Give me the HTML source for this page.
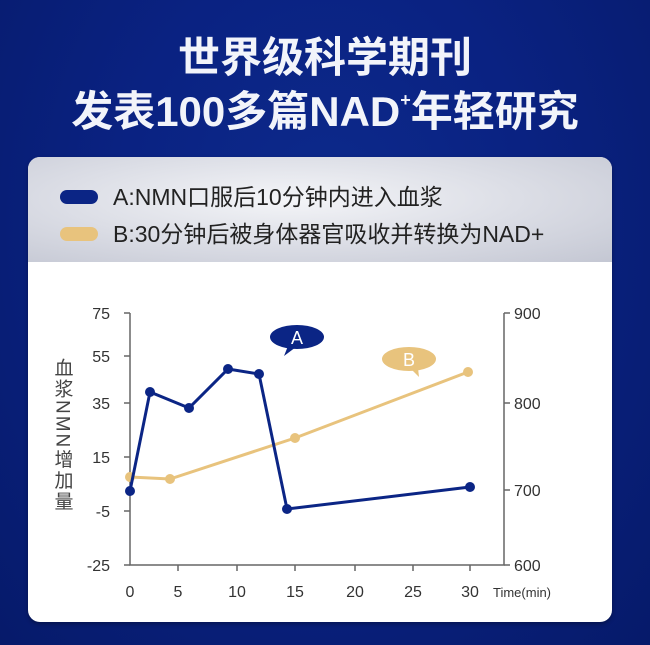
<!DOCTYPE html>
<html><head><meta charset="utf-8"><style>
body{margin:0;width:650px;height:645px;overflow:hidden;background:radial-gradient(ellipse at 50% 35%,#0d2a8c 0%,#0a2282 45%,#061a6a 100%);font-family:"Liberation Sans","Noto Sans CJK SC",sans-serif;position:relative}
.t{position:absolute;left:0;width:650px;text-align:center;color:#f2f4fa;font-weight:bold;font-size:42px;line-height:48px}
.card{position:absolute;left:28px;top:157px;width:584px;height:465px;border-radius:12px;background:#fff;overflow:hidden;box-shadow:0 2px 4px rgba(0,0,0,.3)}
.hd{position:absolute;left:0;top:0;width:584px;height:105px;background:radial-gradient(ellipse at 45% 40%,#f4f5f8 0%,#dcdee6 50%,#c4c7d3 100%)}
.sw{position:absolute;left:32px;width:38px;height:14px;border-radius:7px}
.lg{position:absolute;left:85px;font-size:23px;color:#222;line-height:28px}
</style></head><body>
<div class="t" style="top:34px">世界级科学期刊</div>
<div class="t" style="top:88px">发表100多篇NAD<sup style="font-size:18px;vertical-align:20px;line-height:0">+</sup>年轻研究</div>
<div class="card"><div class="hd">
<div class="sw" style="top:33px;background:#0b2585"></div>
<div class="lg" style="top:26px">A:NMN口服后10分钟内进入血浆</div>
<div class="sw" style="top:70px;background:#e8c37d"></div>
<div class="lg" style="top:63px">B:30分钟后被身体器官吸收并转换为NAD+</div>
</div></div>
<svg width="650" height="645" style="position:absolute;left:0;top:0" font-family="Liberation Sans, Noto Sans CJK SC, sans-serif">
<g stroke="#666" stroke-width="1.5" fill="none">
<path d="M130 313V565H504V313"/>
<path d="M124 313H130M124 356H130M124 403H130M124 457H130M124 511H130M124 565H130"/>
<path d="M504 313H510M504 403H510M504 490H510M504 565H510"/>
<path d="M178 565V571M237 565V571M295 565V571M355 565V571M413 565V571M470 565V571"/>
</g>
<g font-size="16" fill="#333" text-anchor="end">
<text x="110" y="319">75</text><text x="110" y="362">55</text><text x="110" y="409">35</text><text x="110" y="463">15</text><text x="110" y="517">-5</text><text x="110" y="571">-25</text>
</g>
<g font-size="16" fill="#333">
<text x="514" y="319">900</text><text x="514" y="409">800</text><text x="514" y="496">700</text><text x="514" y="571">600</text>
</g>
<g font-size="16" fill="#333" text-anchor="middle">
<text x="130" y="597">0</text><text x="178" y="597">5</text><text x="237" y="597">10</text><text x="295" y="597">15</text><text x="355" y="597">20</text><text x="413" y="597">25</text><text x="470" y="597">30</text>
</g>
<text x="493" y="597" font-size="13" fill="#333">Time(min)</text>
<text x="62" y="358" font-size="19" letter-spacing="2" fill="#444" style="writing-mode:vertical-rl">血浆NMN增加量</text>
<polyline points="130,477 170,479 295,438 468,372" fill="none" stroke="#e8c37d" stroke-width="3"/>
<g fill="#e8c37d"><circle cx="130" cy="477" r="5"/><circle cx="170" cy="479" r="5"/><circle cx="295" cy="438" r="5"/><circle cx="468" cy="372" r="5"/></g>
<polyline points="130,491 150,392 189,408 228,369 259,374 287,509 470,487" fill="none" stroke="#0b2585" stroke-width="3"/>
<g fill="#0b2585"><circle cx="130" cy="491" r="5"/><circle cx="150" cy="392" r="5"/><circle cx="189" cy="408" r="5"/><circle cx="228" cy="369" r="5"/><circle cx="259" cy="374" r="5"/><circle cx="287" cy="509" r="5"/><circle cx="470" cy="487" r="5"/></g>
<ellipse cx="297" cy="337" rx="27" ry="12" fill="#0b2585"/><path d="M288 346L284 356L296 347Z" fill="#0b2585"/>
<text x="297" y="344" font-size="18" fill="#fff" text-anchor="middle">A</text>
<ellipse cx="409" cy="359" rx="27" ry="12" fill="#e8c37d"/><path d="M410 368L419 377L418 368Z" fill="#e8c37d"/>
<text x="409" y="366" font-size="18" fill="#fff" text-anchor="middle">B</text>
</svg>
</body></html>
